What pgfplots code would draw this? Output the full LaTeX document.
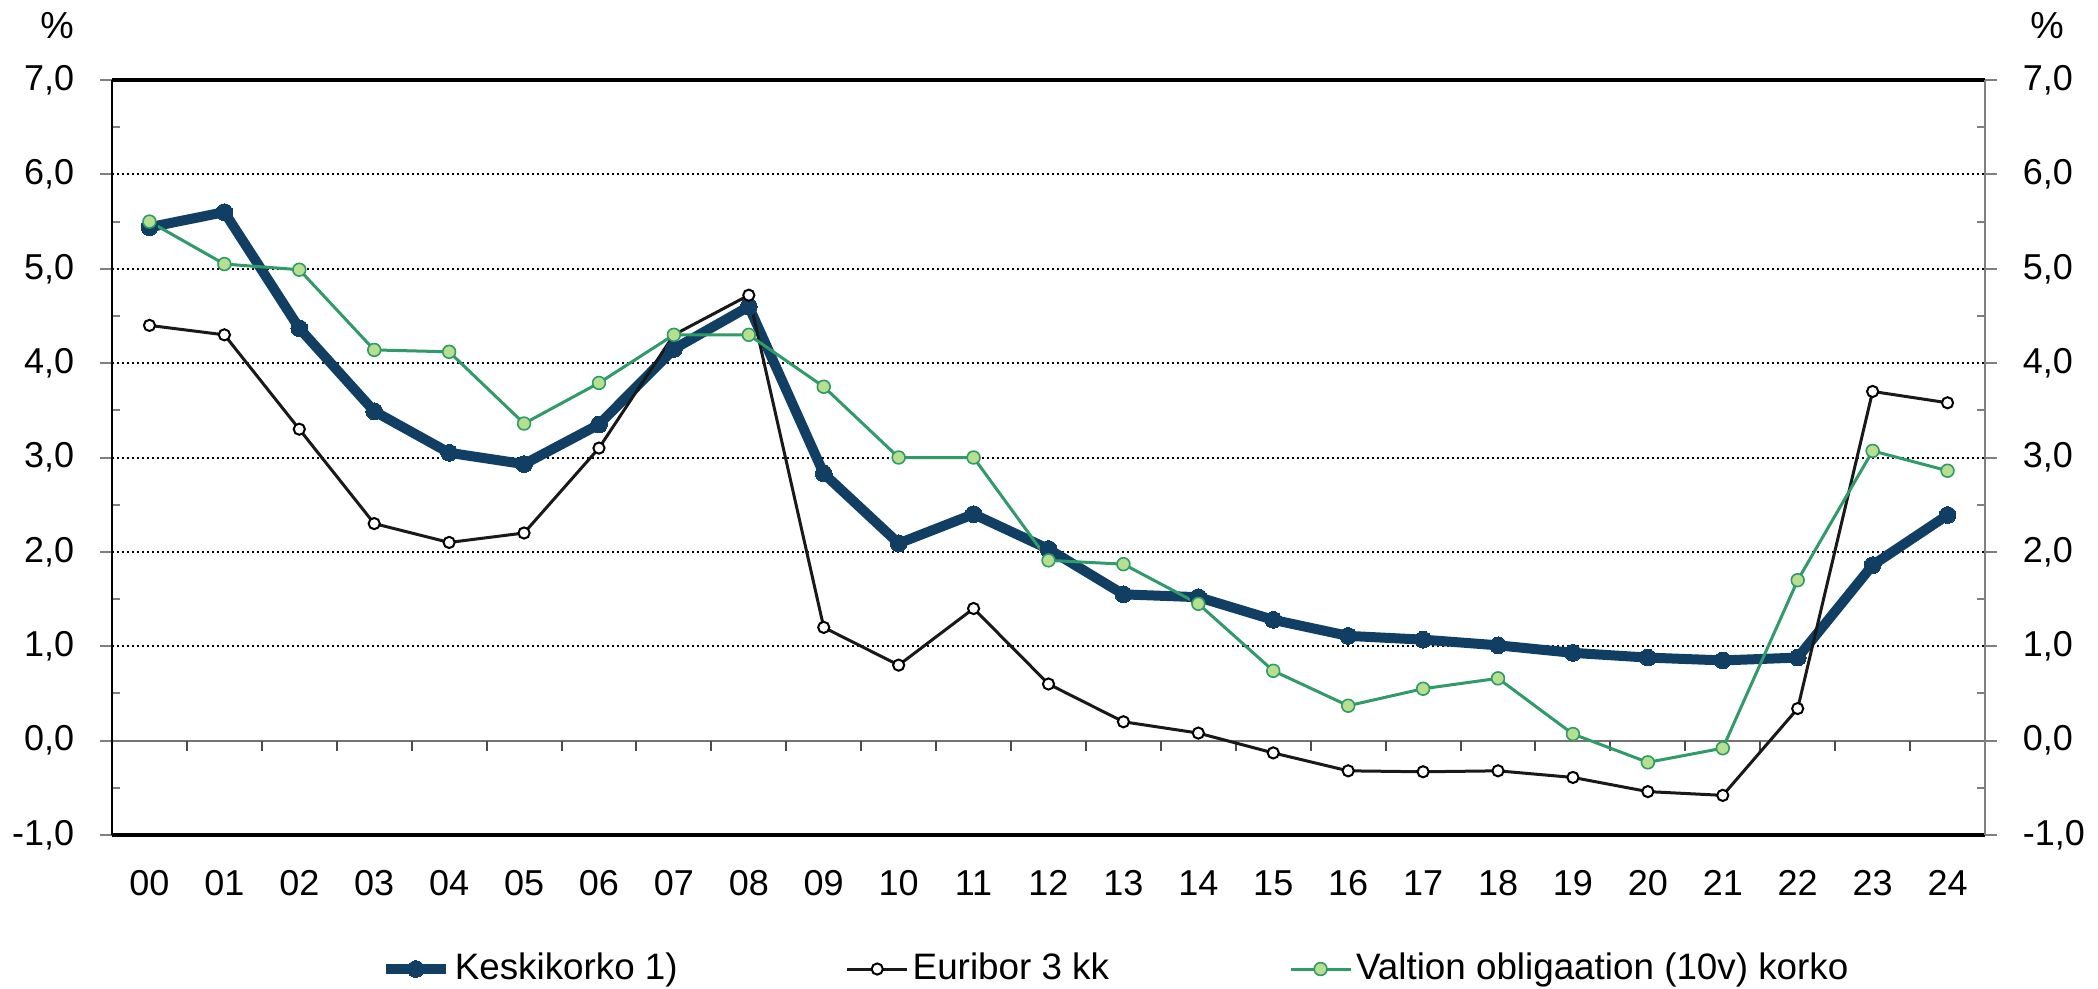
\documentclass[border=0pt]{standalone}
\usepackage{pgfplots}
\pgfplotsset{compat=1.18}
\usepackage{fontspec}
\setmainfont{Liberation Sans}
\definecolor{kblue}{RGB}{16,63,99}
\definecolor{vgreen}{RGB}{46,155,104}
\definecolor{vfill}{RGB}{182,223,142}
\begin{document}
\begin{tikzpicture}
\begin{axis}[
  at={(28pt,38.25pt)}, anchor=south west,
  scale only axis, width=468.25pt, height=188.75pt,
  xmin=-0.5, xmax=24.5, ymin=-1, ymax=7,
  clip=false,
  axis line style={draw=none},
  tick style={draw=none}, major tick length=0pt,
  xtick={0,...,24},
  xticklabels={00,01,02,03,04,05,06,07,08,09,10,11,12,13,14,15,16,17,18,19,20,21,22,23,24},
  ytick={-1,0,1,2,3,4,5,6,7},
  yticklabels={{-1,0},{0,0},{1,0},{2,0},{3,0},{4,0},{5,0},{6,0},{7,0}},
  ticklabel style={font=\fontsize{9}{10}\selectfont},
  xticklabel style={anchor=north, inner sep=0pt, yshift=-8.75pt},
  yticklabel style={anchor=east, inner sep=0pt, xshift=-9.25pt},
  ymajorgrids,
  grid style={black, line width=0.5pt, dash pattern=on 0.5pt off 0.75pt},
  legend columns=3,
  legend style={at={(0.1431,-0.1775)}, anchor=west, draw=none, fill=none,
    inner sep=0pt, font=\fontsize{9.2}{11}\selectfont, nodes={inner sep=1pt},
    /tikz/column 2/.style={column sep=41pt},
    /tikz/column 4/.style={column sep=44pt}},
  legend cell align=left,
  legend image code/.code={\draw[mark repeat=2,mark phase=2] plot coordinates {(0pt,0pt) (7.5pt,0pt) (15pt,0pt)};},
]
% zero line and ticks
\draw[black!55, line width=0.5pt] (axis cs:-0.5,0) -- (axis cs:24.5,0);
\pgfplotsinvokeforeach{0.5,1.5,2.5,3.5,4.5,5.5,6.5,7.5,8.5,9.5,10.5,11.5,12.5,13.5,14.5,15.5,16.5,17.5,18.5,19.5,20.5,21.5,22.5,23.5}{
  \draw[black!70, line width=0.5pt] (axis cs:#1,0) -- ++(0pt,-2.7pt);
}
\pgfplotsinvokeforeach{-1,0,1,2,3,4,5,6,7}{
  \draw[gray, line width=0.5pt] (axis cs:-0.5,#1) -- ++(-3pt,0pt);
  \draw[gray, line width=0.5pt] (axis cs:24.5,#1) -- ++(3pt,0pt);
}
\pgfplotsinvokeforeach{-0.5,0.5,1.5,2.5,3.5,4.5,5.5,6.5}{
  \draw[gray, line width=0.5pt] (axis cs:-0.5,#1) -- ++(2pt,0pt);
  \draw[gray, line width=0.5pt] (axis cs:24.5,#1) -- ++(-2pt,0pt);
}

\addplot[kblue, line width=2.5pt, mark=*, mark size=2.1pt, mark options={fill=kblue, draw=kblue, line width=0pt}] coordinates {
(0,5.44) (1,5.60) (2,4.37) (3,3.49) (4,3.05) (5,2.93) (6,3.35) (7,4.15) (8,4.60)
(9,2.83) (10,2.09) (11,2.40) (12,2.03) (13,1.55) (14,1.52) (15,1.28) (16,1.11)
(17,1.07) (18,1.01) (19,0.93) (20,0.88) (21,0.85) (22,0.88) (23,1.86) (24,2.39)};
\addlegendentry{Keskikorko 1)}

\addplot[black!90, line width=0.75pt, mark=*, mark size=1.4pt, mark options={fill=white, draw=black, line width=0.5pt}] coordinates {
(0,4.40) (1,4.30) (2,3.30) (3,2.30) (4,2.10) (5,2.20) (6,3.10) (7,4.30) (8,4.72)
(9,1.20) (10,0.80) (11,1.40) (12,0.60) (13,0.20) (14,0.08) (15,-0.13) (16,-0.32)
(17,-0.33) (18,-0.32) (19,-0.39) (20,-0.54) (21,-0.58) (22,0.34) (23,3.70) (24,3.58)};
\addlegendentry{Euribor 3 kk}

\addplot[vgreen, line width=0.75pt, mark=*, mark size=1.6pt, mark options={fill=vfill, draw=vgreen, line width=0.4pt}] coordinates {
(0,5.50) (1,5.05) (2,4.99) (3,4.14) (4,4.12) (5,3.36) (6,3.79) (7,4.30) (8,4.30)
(9,3.75) (10,3.00) (11,3.00) (12,1.91) (13,1.87) (14,1.45) (15,0.74) (16,0.37)
(17,0.55) (18,0.66) (19,0.07) (20,-0.23) (21,-0.08) (22,1.70) (23,3.07) (24,2.86)};
\addlegendentry{Valtion obligaation (10v) korko}

% frame
\draw[black, line width=0.9pt] (rel axis cs:0,1) -- (rel axis cs:1,1);
\draw[black, line width=0.9pt] (rel axis cs:0,0) -- (rel axis cs:1,0);
\draw[black, line width=0.7pt] (rel axis cs:0,0) -- (rel axis cs:0,1);
\draw[gray, line width=0.5pt] (rel axis cs:1,0) -- (rel axis cs:1,1);
\end{axis}
\begin{axis}[
  at={(28pt,38.25pt)}, anchor=south west,
  scale only axis, width=468.25pt, height=188.75pt,
  xmin=-0.5, xmax=24.5, ymin=-1, ymax=7,
  hide x axis,
  axis y line*=right,
  axis line style={draw=none},
  tick style={draw=none}, major tick length=0pt,
  ytick={-1,0,1,2,3,4,5,6,7},
  yticklabels={{-1,0},{0,0},{1,0},{2,0},{3,0},{4,0},{5,0},{6,0},{7,0}},
  ticklabel style={font=\fontsize{9}{10}\selectfont},
  yticklabel style={anchor=west, inner sep=0pt, xshift=9.25pt},
]
\end{axis}
\node[font=\fontsize{9.4}{11}\selectfont, inner sep=0pt] at (14.25pt,240.5pt) {\%};
\node[font=\fontsize{9.4}{11}\selectfont, inner sep=0pt] at (511.75pt,240.5pt) {\%};
\pgfresetboundingbox
\path[use as bounding box] (0,0) rectangle (524.5pt,247pt);
\end{tikzpicture}
\end{document}
